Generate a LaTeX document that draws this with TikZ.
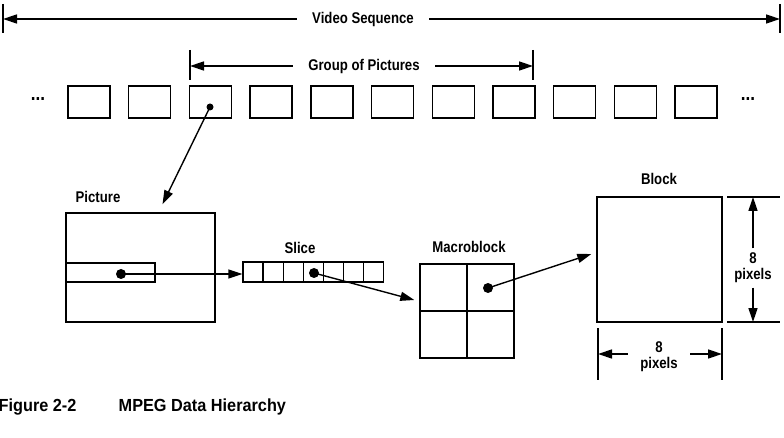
\documentclass[tikz,border=0pt]{standalone}
\usepackage{fontspec}
\setmainfont{Liberation Sans}[FakeStretch=0.85]
\newfontfamily\capfont{Liberation Sans}[FakeStretch=0.93]
\usetikzlibrary{arrows.meta}
\tikzset{
	lbl/.style={font=\bfseries\fontsize{15.5}{16}\selectfont, inner sep=0pt},
	gaplbl/.style={lbl, inner xsep=15pt},
	dimlbl/.style={lbl, align=center, inner sep=4pt},
	frame/.style={draw, minimum width=42pt, minimum height=32pt, inner sep=0pt},
	cell/.style={draw, minimum width=20.1pt, minimum height=20pt, inner sep=0pt},
	spot/.style={circle, fill, inner sep=0pt, minimum size=10pt},
	tip/.style={-{Triangle[length=14pt,width=9pt]}},
}
\begin{document}
\begin{tikzpicture}[x=1pt, y=-1pt, line width=1.4pt]
		\useasboundingbox (0,0) rectangle (784,438);
		%video sequence
		\node[gaplbl] (vs) at (363, 19) {Video Sequence};
		\coordinate (vsL) at (3, 19);
		\coordinate (vsR) at (780, 19);
		\draw ([yshift=15pt]vsL) -- ([yshift=-14pt]vsL);
		\draw ([yshift=15pt]vsR) -- ([yshift=-14pt]vsR);
		\draw[tip] (vs) -- (vsL);
		\draw[tip] (vs) -- (vsR);
		%group of pictures
		\node[gaplbl] (gop) at (364, 66) {Group of Pictures};
		\coordinate (gopL) at (190, 66);
		\coordinate (gopR) at (533, 66);
		\draw ([yshift=16pt]gopL) -- ([yshift=-14pt]gopL);
		\draw ([yshift=16pt]gopR) -- ([yshift=-14pt]gopR);
		\draw[tip] (gop) -- (gopL);
		\draw[tip] (gop) -- (gopR);
		%frames
		\foreach \i in {1, 2, ..., 11}{
			\node[frame] (f\i) at ({89 + 60.7*(\i - 1)}, 102) {};
		}
		\node[lbl, font=\bfseries\fontsize{20}{20}\selectfont] (dotsL) at (38, 99) {...};
		\node[lbl, font=\bfseries\fontsize{20}{20}\selectfont] (dotsR) at (748, 99) {...};
		\node[spot, minimum size=7pt] (s1) at (210, 107) {};
		%picture
		\node[lbl] (piclbl) at (98, 197) {Picture};
		\node[draw, minimum width=149pt, minimum height=109pt, inner sep=0pt] (pic) at (140.5, 267.5) {};
		\node[draw, minimum width=89pt, minimum height=19pt, inner sep=0pt] (row) at (110.5, 272.5) {};
		\node[spot] (s2) at (121, 274) {};
		\draw[tip, shorten <=-4pt] (s1) -- ([xshift=22pt, yshift=8pt]pic.north);
		%slice
		\foreach \i in {1, 2, ..., 7}{
			\node[cell] (c\i) at ({253.1 + 20.1*(\i - 1)}, 272) {};
		}
		\node[lbl] (slicelbl) at (300, 248) {Slice};
		\node[spot] (s3) at (314, 273) {};
		\draw[tip] (s2.center) -- (c1.west |- s2);
		%macroblock
		\node[lbl] (mblbl) at (469, 247) {Macroblock};
		\node[draw, minimum size=94pt, inner sep=0pt] (mb) at (467, 311) {};
		\draw (mb.north) -- (mb.south);
		\draw (mb.west) -- (mb.east);
		\node[spot] (s4) at (488, 288) {};
		\draw[tip] (s3.center) -- ([xshift=-5pt, yshift=11pt]mb.west);
		%block
		\node[lbl] (blklbl) at (659, 179) {Block};
		\node[draw, minimum width=125pt, minimum height=125pt, inner sep=0pt] (blk) at (659.5, 259.5) {};
		\draw[tip] (s4.center) -- ([xshift=-5pt, yshift=5.5pt]blk.west);
		%8 pixels, vertical
		\coordinate (vT) at (753, 197);
		\coordinate (vB) at (753, 322);
		\draw ([xshift=-26pt]vT) -- ([xshift=27pt]vT);
		\draw ([xshift=-26pt]vB) -- ([xshift=27pt]vB);
		\node[dimlbl] (vlab) at (753, 268) {8\\pixels};
		\draw[tip] (vlab) -- (vT);
		\draw[tip] (vlab) -- (vB);
		%8 pixels, horizontal
		\coordinate (hL) at (598, 354);
		\coordinate (hR) at (722, 354);
		\draw ([yshift=26pt]hL) -- ([yshift=-26pt]hL);
		\draw ([yshift=26pt]hR) -- ([yshift=-26pt]hR);
		\node[dimlbl, inner xsep=12pt] (hlab) at (659, 357) {8\\pixels};
		\draw[tip] (hlab.west |- hL) -- (hL);
		\draw[tip] (hlab.east |- hR) -- (hR);
		%caption
		\node[anchor=west, inner sep=0pt, font=\capfont\bfseries\fontsize{17.5}{18}\selectfont] (fig) at (-2, 407) {Figure 2-2};
		\node[anchor=west, inner sep=0pt, font=\capfont\bfseries\fontsize{17.5}{18}\selectfont] (cap) at (118, 407) {MPEG Data Hierarchy};
\end{tikzpicture}
\end{document}
